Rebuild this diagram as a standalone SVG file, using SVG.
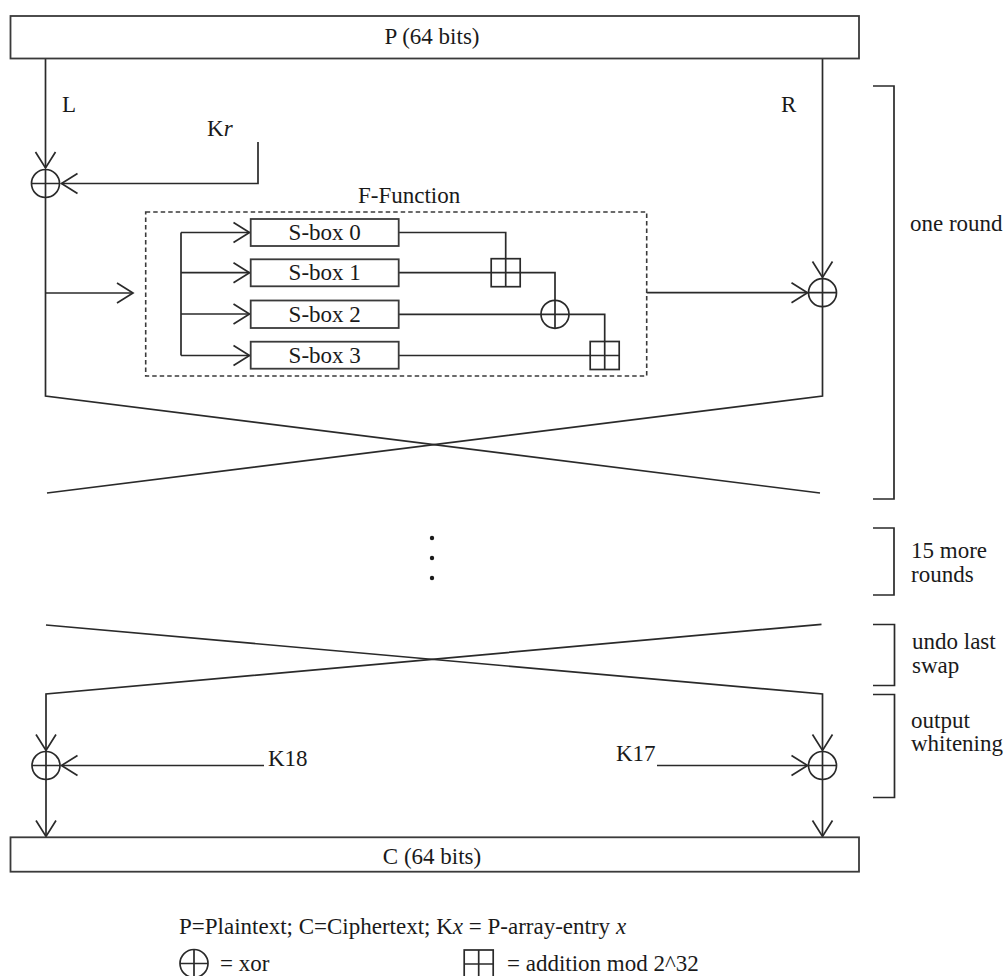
<svg xmlns="http://www.w3.org/2000/svg" width="1007" height="976" viewBox="0 0 1007 976">
<style>
.ln{fill:none;stroke:#2a2a2a;stroke-width:1.7}
.bx{fill:#fff;stroke:#3a3a3a;stroke-width:1.8}
.t{font-family:"Liberation Serif","Times New Roman",serif;font-size:23px;fill:#1a1a1a}
.c{text-anchor:middle}
.i{font-style:italic}
</style>
<defs>
<marker id="arr" markerUnits="userSpaceOnUse" markerWidth="24" markerHeight="24" viewBox="-18 -12 20 24" refX="0" refY="0" orient="auto">
<path d="M-16,-10 L0,0 L-16,10" fill="none" stroke="#2a2a2a" stroke-width="1.7"/>
</marker>
<g id="xorSym"><circle r="14" fill="#fff" stroke="#2a2a2a" stroke-width="1.7"/><path d="M-14,0H14M0,-14V14" stroke="#2a2a2a" stroke-width="1.7"/></g>
<g id="addSym"><rect x="-14.5" y="-14" width="29" height="28" fill="#fff" stroke="#2a2a2a" stroke-width="1.7"/><path d="M-14.5,0H14.5M0,-14V14" stroke="#2a2a2a" stroke-width="1.7"/></g>
</defs>
<rect width="1007" height="976" fill="#fff"/>

<g id="connectors">
<path class="ln" d="M45.5,58V168" marker-end="url(#arr)"/>
<path class="ln" d="M258,142V183.5H61.5" marker-end="url(#arr)"/>
<path class="ln" d="M45.5,197.5V396L820,493"/>
<path class="ln" d="M45.5,293H133" marker-end="url(#arr)"/>
<path class="ln" d="M181,232.5V355.5"/>
<path class="ln" d="M181,232.5H249.5" marker-end="url(#arr)"/>
<path class="ln" d="M181,272.7H249.5" marker-end="url(#arr)"/>
<path class="ln" d="M181,314H249.5" marker-end="url(#arr)"/>
<path class="ln" d="M181,355.5H249.5" marker-end="url(#arr)"/>
<path class="ln" d="M398.7,232.5H505.7V259"/>
<path class="ln" d="M398.7,272.7H491"/>
<path class="ln" d="M520.5,272.7H555V300.3"/>
<path class="ln" d="M398.7,314.3H541"/>
<path class="ln" d="M569,314.3H604.7V341.7"/>
<path class="ln" d="M398.7,355.5H590"/>
<path class="ln" d="M646.7,292.7H807.5" marker-end="url(#arr)"/>
<path class="ln" d="M822.5,58V277.5" marker-end="url(#arr)"/>
<path class="ln" d="M822.5,306.7V396L47,493"/>
<path class="ln" d="M46,625L822.5,694V750.5" marker-end="url(#arr)"/>
<path class="ln" d="M821.5,624.3L46,694V750.5" marker-end="url(#arr)"/>
<path class="ln" d="M264,765.5H61.5" marker-end="url(#arr)"/>
<path class="ln" d="M657,765.5H807.5" marker-end="url(#arr)"/>
<path class="ln" d="M46,779.5V836.5" marker-end="url(#arr)"/>
<path class="ln" d="M822.5,779.5V836.5" marker-end="url(#arr)"/>
</g>

<g id="P-block">
<rect class="bx" x="10.5" y="16" width="848.5" height="42.5"/>
<text class="t c" x="432" y="44">P (64 bits)</text>
</g>
<g id="label-L"><text class="t" x="62" y="112">L</text></g>
<g id="label-R"><text class="t" x="781" y="112">R</text></g>
<g id="label-Kr"><text class="t" x="207" y="136">K<tspan class="i">r</tspan></text></g>

<g id="xor-L"><use href="#xorSym" x="45.5" y="183.5"/></g>
<g id="xor-R"><use href="#xorSym" x="822.5" y="292.7"/></g>

<g id="F-function">
<rect x="145.7" y="212" width="501" height="164" fill="none" stroke="#3a3a3a" stroke-width="1.6" stroke-dasharray="4.5,3"/>
<text class="t" x="358" y="203">F-Function</text>
</g>
<g id="sbox0"><rect class="bx" x="250.7" y="219" width="148" height="27"/><text class="t c" x="324.7" y="240">S-box 0</text></g>
<g id="sbox1"><rect class="bx" x="250.7" y="259.3" width="148" height="27"/><text class="t c" x="324.7" y="280.2">S-box 1</text></g>
<g id="sbox2"><rect class="bx" x="250.7" y="300.5" width="148" height="27.5"/><text class="t c" x="324.7" y="321.8">S-box 2</text></g>
<g id="sbox3"><rect class="bx" x="250.7" y="341.7" width="148" height="27"/><text class="t c" x="324.7" y="363">S-box 3</text></g>
<g id="add-1"><use href="#addSym" x="505.7" y="272.7"/></g>
<g id="xor-F"><use href="#xorSym" x="555" y="314.3"/></g>
<g id="add-2"><use href="#addSym" x="604.7" y="355.5"/></g>

<g id="dots">
<circle cx="432" cy="538" r="2.2" fill="#1a1a1a"/>
<circle cx="432" cy="558" r="2.2" fill="#1a1a1a"/>
<circle cx="432" cy="578" r="2.2" fill="#1a1a1a"/>
</g>

<g id="xor-L-out"><use href="#xorSym" x="46" y="765.5"/></g>
<g id="xor-R-out"><use href="#xorSym" x="822.5" y="765.5"/></g>
<g id="label-K18"><text class="t" x="268" y="766">K18</text></g>
<g id="label-K17"><text class="t" x="616" y="761">K17</text></g>

<g id="C-block">
<rect class="bx" x="10.5" y="837.3" width="848.5" height="34.4"/>
<text class="t c" x="432" y="863.5">C (64 bits)</text>
</g>

<g id="brace-one-round">
<path class="ln" d="M873,86H894V499H873"/>
<text class="t" x="910" y="231">one round</text>
</g>
<g id="brace-15-more">
<path class="ln" d="M873,528H894V595H873"/>
<text class="t" x="911" y="558">15 more</text>
<text class="t" x="911" y="582">rounds</text>
</g>
<g id="brace-undo">
<path class="ln" d="M873,624.5H894.5V685.5H873"/>
<text class="t" x="912" y="649">undo last</text>
<text class="t" x="912" y="673">swap</text>
</g>
<g id="brace-output">
<path class="ln" d="M873,694.5H894.5V797.5H873"/>
<text class="t" x="911" y="728">output</text>
<text class="t" x="911" y="751">whitening</text>
</g>

<g id="legend">
<text class="t" x="179" y="934">P=Plaintext; C=Ciphertext; K<tspan class="i">x</tspan> = P-array-entry <tspan class="i">x</tspan></text>
<use href="#xorSym" x="194" y="963.5"/>
<text class="t" x="220" y="971">= xor</text>
<use href="#addSym" x="478.7" y="964"/>
<text class="t" x="507" y="971">= addition mod 2^32</text>
</g>
</svg>
